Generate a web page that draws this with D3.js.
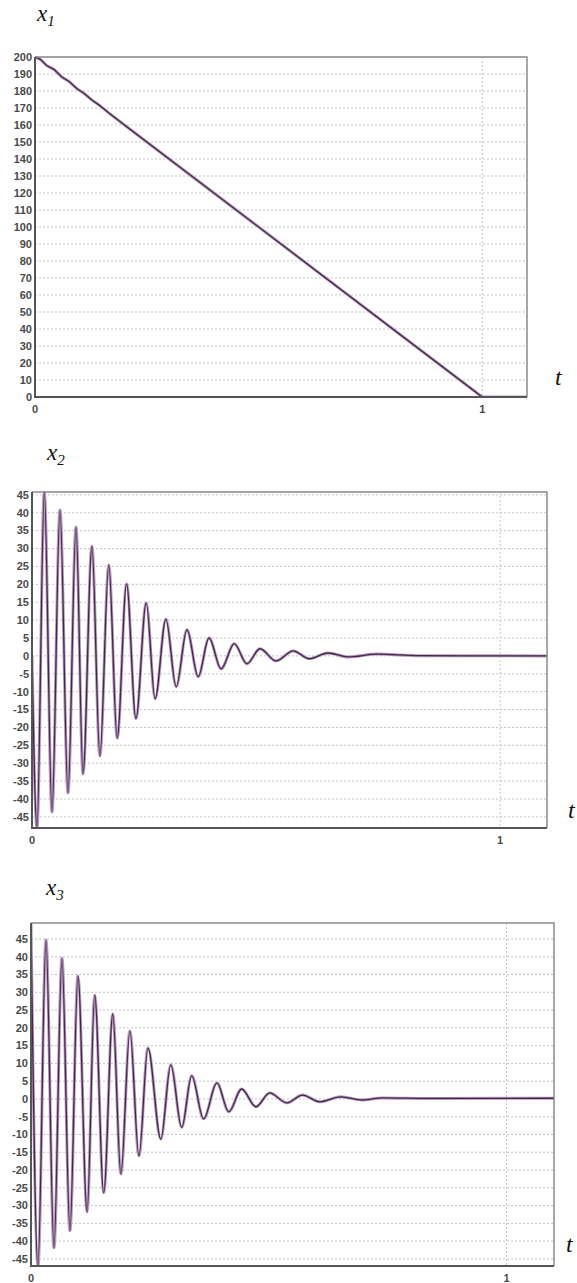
<!DOCTYPE html>
<html>
<head>
<meta charset="utf-8">
<script src="https://cdn.jsdelivr.net/npm/d3@7"></script>
<style>
  html, body { margin: 0; padding: 0; background: #fff; }
  svg { display: block; }
  .tick-label { font-family: "Liberation Sans", Arial, sans-serif; font-size: 11px; font-weight: bold; fill: #4a4a4a; }
  .title { font-family: "Liberation Serif", "Times New Roman", serif; font-style: italic; fill: #111; }
</style>
</head>
<body>
<svg id="chart"></svg>
<script>
const width = 577;
const height = 1283;

// x1 : nearly linear fall with small ripples at the start
const t1 = [0, 0.012, 0.026, 0.043, 0.060, 0.077, 0.094, 0.110, 0.128, 0.145, 0.164, 0.200, 1.0, 1.1];
const x1 = [200, 198.6, 195.0, 192.6, 188.2, 185.4, 181.3, 178.5, 174.5, 171.4, 167.3, 160.0, 0, 0];

// x2 : extrema
const t2 = [0, 0.0107, 0.0263, 0.0427, 0.0598, 0.0769, 0.094, 0.109, 0.128, 0.145, 0.164, 0.182, 0.202, 0.222,
  0.244, 0.263, 0.286, 0.308, 0.331, 0.355, 0.378, 0.404, 0.432, 0.459, 0.487, 0.521, 0.558, 0.592,
  0.632, 0.675, 0.737, 0.829, 1.1];
const x2 = [0, -48.1, 45.8, -43.6, 40.8, -38.3, 36.0, -33.0, 30.7, -28.0, 25.4, -23.0, 20.1, -17.5,
  14.8, -12.0, 10.3, -8.6, 7.3, -5.8, 5.0, -3.6, 3.4, -2.2, 2.0, -1.4, 1.4, -0.8,
  0.8, -0.3, 0.5, 0.05, 0];

// x3 : extrema
const t3 = [0, 0.0147, 0.0315, 0.0483, 0.0651, 0.0819, 0.0987, 0.118, 0.134, 0.153, 0.172, 0.189, 0.208, 0.227,
  0.246, 0.273, 0.294, 0.317, 0.338, 0.363, 0.391, 0.416, 0.443, 0.473, 0.502, 0.538, 0.571, 0.607,
  0.651, 0.697, 0.739, 0.838, 1.1];
const x3 = [49.5, -47.0, 44.7, -41.9, 39.6, -37.1, 34.6, -31.8, 29.2, -26.4, 23.9, -21.1, 19.1, -16.0,
  14.3, -11.3, 9.6, -8.0, 6.5, -5.6, 4.5, -3.6, 2.8, -2.2, 1.7, -1.1, 1.1, -0.8,
  0.6, -0.3, 0.3, 0.15, 0.2];

const ticks1 = d3.range(0, 201, 10);
const ticks23 = d3.range(-45, 46, 5);
const xTicks = [0, 1];

const svg = d3.select("#chart")
  .attr("width", width)
  .attr("height", height);

function drawChart({ id, box, t, v, yDomain, yTicks, curve, name, sub, title, tLabel }) {
  const x = d3.scaleLinear().domain([0, 1.1]).range([box.left, box.right]);
  const y = d3.scaleLinear().domain(yDomain).range([box.bottom, box.top]);
  const g = svg.append("g");

  // grid
  g.append("g")
    .selectAll("line")
    .data(yTicks)
    .join("line")
    .attr("x1", box.left).attr("x2", box.right)
    .attr("y1", d => y(d)).attr("y2", d => y(d))
    .attr("stroke", "#c4c4c4")
    .attr("stroke-width", 1)
    .attr("stroke-dasharray", "2,2");

  g.append("line")
    .attr("x1", x(1)).attr("x2", x(1))
    .attr("y1", box.top).attr("y2", box.bottom)
    .attr("stroke", "#c4c4c4")
    .attr("stroke-dasharray", "2,2");

  // y tick labels
  g.append("g")
    .selectAll("text")
    .data(yTicks)
    .join("text")
    .attr("class", "tick-label")
    .attr("x", box.left - 3)
    .attr("y", d => y(d))
    .attr("dy", "0.35em")
    .attr("text-anchor", "end")
    .text(d => d);

  // x tick labels
  g.append("g")
    .selectAll("text")
    .data(xTicks)
    .join("text")
    .attr("class", "tick-label")
    .attr("x", d => x(d))
    .attr("y", box.bottom + 16)
    .attr("text-anchor", "middle")
    .text(d => d);

  // data line
  g.append("clipPath").attr("id", "clip" + id)
    .append("rect")
    .attr("x", box.left).attr("y", box.top - 1)
    .attr("width", box.right - box.left).attr("height", box.bottom - box.top + 2);

  const data = t.map((d, i) => [d, v[i]]);
  const line = d3.line().x(d => x(d[0])).y(d => y(d[1])).curve(curve);

  g.append("path")
    .datum(data)
    .attr("clip-path", `url(#clip${id})`)
    .attr("fill", "none")
    .attr("stroke", "#b49abb")
    .attr("stroke-width", 3)
    .attr("d", line);

  g.append("path")
    .datum(data)
    .attr("clip-path", `url(#clip${id})`)
    .attr("fill", "none")
    .attr("stroke", "#46264c")
    .attr("stroke-width", 1.3)
    .attr("d", line);

  // frame
  g.append("path")
    .attr("d", `M${box.left},${box.top}H${box.right}V${box.bottom}`)
    .attr("fill", "none")
    .attr("stroke", "#8a8a8a")
    .attr("stroke-width", 1.5);
  g.append("path")
    .attr("d", `M${box.left},${box.top}V${box.bottom}H${box.right}`)
    .attr("fill", "none")
    .attr("stroke", "#555")
    .attr("stroke-width", 2);

  // titles
  const tt = g.append("text")
    .attr("class", "title")
    .attr("x", title.x)
    .attr("y", title.y)
    .style("font-size", "23px");
  tt.append("tspan").text(name);
  tt.append("tspan").attr("dy", 5).style("font-size", "15px").text(sub);

  g.append("text")
    .attr("class", "title")
    .attr("x", tLabel.x)
    .attr("y", tLabel.y)
    .style("font-size", "24px")
    .text("t");
}

drawChart({
  id: 1,
  box: { left: 35, right: 527, top: 57, bottom: 397 },
  t: t1, v: x1, yDomain: [0, 200], yTicks: ticks1, curve: d3.curveLinear,
  name: "x", sub: "1", title: { x: 37, y: 21 }, tLabel: { x: 555, y: 385 }
});

drawChart({
  id: 2,
  box: { left: 32, right: 547, top: 492, bottom: 828 },
  t: t2, v: x2, yDomain: [-48.1, 45.8], yTicks: ticks23, curve: d3.curveMonotoneX,
  name: "x", sub: "2", title: { x: 47, y: 460 }, tLabel: { x: 568, y: 818 }
});

drawChart({
  id: 3,
  box: { left: 31, right: 554, top: 923, bottom: 1266 },
  t: t3, v: x3, yDomain: [-47, 49.5], yTicks: ticks23, curve: d3.curveMonotoneX,
  name: "x", sub: "3", title: { x: 46, y: 895 }, tLabel: { x: 566, y: 1252 }
});
</script>
</body>
</html>
